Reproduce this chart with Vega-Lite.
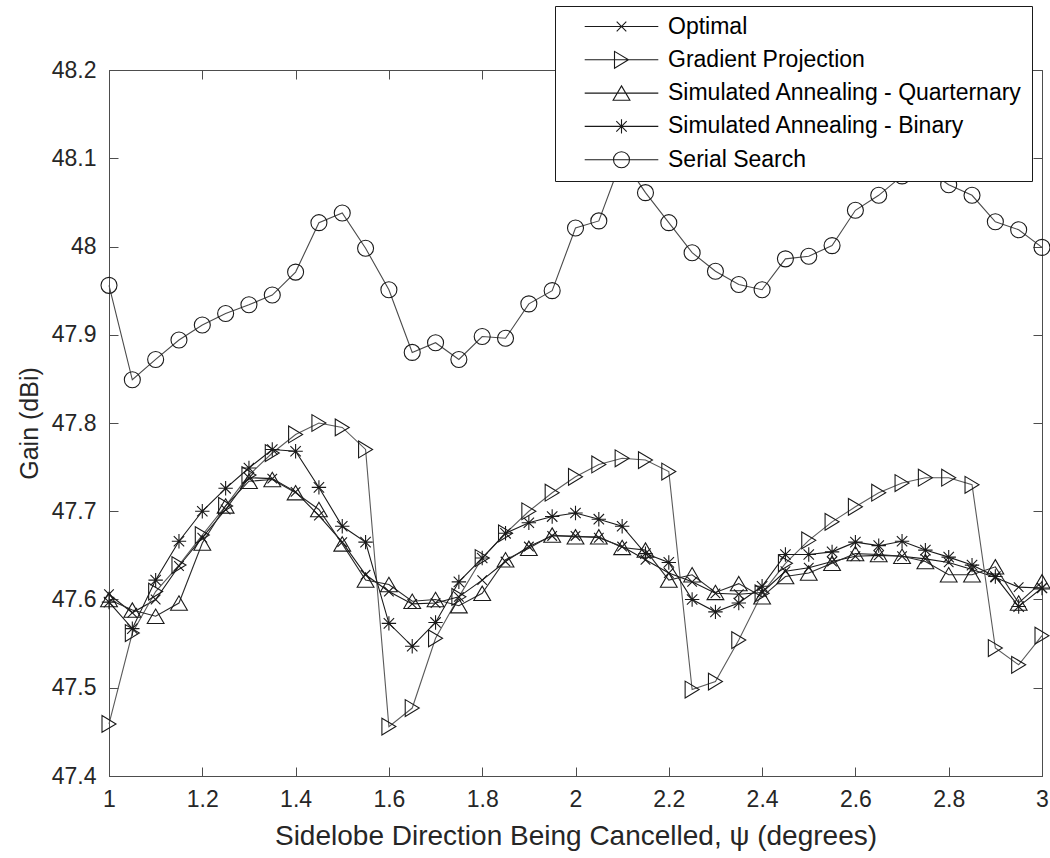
{
  "$schema": "https://vega.github.io/schema/vega-lite/v6.json",
  "autosize": {"type": "none"},
  "padding": {"left": 109, "top": 70, "right": 8, "bottom": 82},
  "width": 933,
  "height": 706,
  "background": "white",
  "config": {
    "font": "Liberation Sans",
    "view": {"stroke": "#4d4d4d", "strokeWidth": 1},
    "axis": {
      "grid": false,
      "domainColor": "#4d4d4d",
      "tickColor": "#4d4d4d",
      "tickSize": -9,
      "labelFont": "Liberation Sans",
      "labelFontSize": 23,
      "labelColor": "#262626",
      "titleFont": "Liberation Sans",
      "titleFontSize": 25,
      "titleFontWeight": "normal",
      "titleColor": "#262626"
    }
  },
  "resolve": {"axis": {"x": "independent", "y": "independent"}, "scale": {"shape": "independent"}},
  "data": {
    "values": [
      {"psi":1.00,"method":"Optimal","gain":47.606},
      {"psi":1.05,"method":"Optimal","gain":47.585},
      {"psi":1.10,"method":"Optimal","gain":47.600},
      {"psi":1.15,"method":"Optimal","gain":47.638},
      {"psi":1.20,"method":"Optimal","gain":47.670},
      {"psi":1.25,"method":"Optimal","gain":47.702},
      {"psi":1.30,"method":"Optimal","gain":47.738},
      {"psi":1.35,"method":"Optimal","gain":47.737},
      {"psi":1.40,"method":"Optimal","gain":47.722},
      {"psi":1.45,"method":"Optimal","gain":47.695},
      {"psi":1.50,"method":"Optimal","gain":47.665},
      {"psi":1.55,"method":"Optimal","gain":47.628},
      {"psi":1.60,"method":"Optimal","gain":47.609},
      {"psi":1.65,"method":"Optimal","gain":47.595},
      {"psi":1.70,"method":"Optimal","gain":47.596},
      {"psi":1.75,"method":"Optimal","gain":47.603},
      {"psi":1.80,"method":"Optimal","gain":47.622},
      {"psi":1.85,"method":"Optimal","gain":47.643},
      {"psi":1.90,"method":"Optimal","gain":47.660},
      {"psi":1.95,"method":"Optimal","gain":47.672},
      {"psi":2.00,"method":"Optimal","gain":47.672},
      {"psi":2.05,"method":"Optimal","gain":47.670},
      {"psi":2.10,"method":"Optimal","gain":47.660},
      {"psi":2.15,"method":"Optimal","gain":47.645},
      {"psi":2.20,"method":"Optimal","gain":47.630},
      {"psi":2.25,"method":"Optimal","gain":47.620},
      {"psi":2.30,"method":"Optimal","gain":47.607},
      {"psi":2.35,"method":"Optimal","gain":47.606},
      {"psi":2.40,"method":"Optimal","gain":47.608},
      {"psi":2.45,"method":"Optimal","gain":47.632},
      {"psi":2.50,"method":"Optimal","gain":47.636},
      {"psi":2.55,"method":"Optimal","gain":47.643},
      {"psi":2.60,"method":"Optimal","gain":47.649},
      {"psi":2.65,"method":"Optimal","gain":47.650},
      {"psi":2.70,"method":"Optimal","gain":47.649},
      {"psi":2.75,"method":"Optimal","gain":47.646},
      {"psi":2.80,"method":"Optimal","gain":47.642},
      {"psi":2.85,"method":"Optimal","gain":47.634},
      {"psi":2.90,"method":"Optimal","gain":47.625},
      {"psi":2.95,"method":"Optimal","gain":47.614},
      {"psi":3.00,"method":"Optimal","gain":47.613},
      {"psi":1.00,"method":"Gradient Projection","gain":47.459},
      {"psi":1.05,"method":"Gradient Projection","gain":47.562},
      {"psi":1.10,"method":"Gradient Projection","gain":47.609},
      {"psi":1.15,"method":"Gradient Projection","gain":47.639},
      {"psi":1.20,"method":"Gradient Projection","gain":47.673},
      {"psi":1.25,"method":"Gradient Projection","gain":47.706},
      {"psi":1.30,"method":"Gradient Projection","gain":47.741},
      {"psi":1.35,"method":"Gradient Projection","gain":47.766},
      {"psi":1.40,"method":"Gradient Projection","gain":47.787},
      {"psi":1.45,"method":"Gradient Projection","gain":47.800},
      {"psi":1.50,"method":"Gradient Projection","gain":47.795},
      {"psi":1.55,"method":"Gradient Projection","gain":47.770},
      {"psi":1.60,"method":"Gradient Projection","gain":47.456},
      {"psi":1.65,"method":"Gradient Projection","gain":47.477},
      {"psi":1.70,"method":"Gradient Projection","gain":47.556},
      {"psi":1.75,"method":"Gradient Projection","gain":47.603},
      {"psi":1.80,"method":"Gradient Projection","gain":47.647},
      {"psi":1.85,"method":"Gradient Projection","gain":47.675},
      {"psi":1.90,"method":"Gradient Projection","gain":47.700},
      {"psi":1.95,"method":"Gradient Projection","gain":47.721},
      {"psi":2.00,"method":"Gradient Projection","gain":47.739},
      {"psi":2.05,"method":"Gradient Projection","gain":47.753},
      {"psi":2.10,"method":"Gradient Projection","gain":47.760},
      {"psi":2.15,"method":"Gradient Projection","gain":47.758},
      {"psi":2.20,"method":"Gradient Projection","gain":47.745},
      {"psi":2.25,"method":"Gradient Projection","gain":47.498},
      {"psi":2.30,"method":"Gradient Projection","gain":47.507},
      {"psi":2.35,"method":"Gradient Projection","gain":47.554},
      {"psi":2.40,"method":"Gradient Projection","gain":47.607},
      {"psi":2.45,"method":"Gradient Projection","gain":47.641},
      {"psi":2.50,"method":"Gradient Projection","gain":47.667},
      {"psi":2.55,"method":"Gradient Projection","gain":47.688},
      {"psi":2.60,"method":"Gradient Projection","gain":47.705},
      {"psi":2.65,"method":"Gradient Projection","gain":47.721},
      {"psi":2.70,"method":"Gradient Projection","gain":47.732},
      {"psi":2.75,"method":"Gradient Projection","gain":47.738},
      {"psi":2.80,"method":"Gradient Projection","gain":47.738},
      {"psi":2.85,"method":"Gradient Projection","gain":47.730},
      {"psi":2.90,"method":"Gradient Projection","gain":47.545},
      {"psi":2.95,"method":"Gradient Projection","gain":47.526},
      {"psi":3.00,"method":"Gradient Projection","gain":47.559},
      {"psi":1.00,"method":"Simulated Annealing - Quarternary","gain":47.600},
      {"psi":1.05,"method":"Simulated Annealing - Quarternary","gain":47.588},
      {"psi":1.10,"method":"Simulated Annealing - Quarternary","gain":47.581},
      {"psi":1.15,"method":"Simulated Annealing - Quarternary","gain":47.596},
      {"psi":1.20,"method":"Simulated Annealing - Quarternary","gain":47.664},
      {"psi":1.25,"method":"Simulated Annealing - Quarternary","gain":47.706},
      {"psi":1.30,"method":"Simulated Annealing - Quarternary","gain":47.734},
      {"psi":1.35,"method":"Simulated Annealing - Quarternary","gain":47.736},
      {"psi":1.40,"method":"Simulated Annealing - Quarternary","gain":47.721},
      {"psi":1.45,"method":"Simulated Annealing - Quarternary","gain":47.702},
      {"psi":1.50,"method":"Simulated Annealing - Quarternary","gain":47.663},
      {"psi":1.55,"method":"Simulated Annealing - Quarternary","gain":47.622},
      {"psi":1.60,"method":"Simulated Annealing - Quarternary","gain":47.617},
      {"psi":1.65,"method":"Simulated Annealing - Quarternary","gain":47.598},
      {"psi":1.70,"method":"Simulated Annealing - Quarternary","gain":47.600},
      {"psi":1.75,"method":"Simulated Annealing - Quarternary","gain":47.593},
      {"psi":1.80,"method":"Simulated Annealing - Quarternary","gain":47.607},
      {"psi":1.85,"method":"Simulated Annealing - Quarternary","gain":47.645},
      {"psi":1.90,"method":"Simulated Annealing - Quarternary","gain":47.658},
      {"psi":1.95,"method":"Simulated Annealing - Quarternary","gain":47.673},
      {"psi":2.00,"method":"Simulated Annealing - Quarternary","gain":47.671},
      {"psi":2.05,"method":"Simulated Annealing - Quarternary","gain":47.671},
      {"psi":2.10,"method":"Simulated Annealing - Quarternary","gain":47.659},
      {"psi":2.15,"method":"Simulated Annealing - Quarternary","gain":47.656},
      {"psi":2.20,"method":"Simulated Annealing - Quarternary","gain":47.622},
      {"psi":2.25,"method":"Simulated Annealing - Quarternary","gain":47.628},
      {"psi":2.30,"method":"Simulated Annealing - Quarternary","gain":47.608},
      {"psi":2.35,"method":"Simulated Annealing - Quarternary","gain":47.618},
      {"psi":2.40,"method":"Simulated Annealing - Quarternary","gain":47.603},
      {"psi":2.45,"method":"Simulated Annealing - Quarternary","gain":47.626},
      {"psi":2.50,"method":"Simulated Annealing - Quarternary","gain":47.630},
      {"psi":2.55,"method":"Simulated Annealing - Quarternary","gain":47.641},
      {"psi":2.60,"method":"Simulated Annealing - Quarternary","gain":47.652},
      {"psi":2.65,"method":"Simulated Annealing - Quarternary","gain":47.651},
      {"psi":2.70,"method":"Simulated Annealing - Quarternary","gain":47.649},
      {"psi":2.75,"method":"Simulated Annealing - Quarternary","gain":47.643},
      {"psi":2.80,"method":"Simulated Annealing - Quarternary","gain":47.628},
      {"psi":2.85,"method":"Simulated Annealing - Quarternary","gain":47.628},
      {"psi":2.90,"method":"Simulated Annealing - Quarternary","gain":47.637},
      {"psi":2.95,"method":"Simulated Annealing - Quarternary","gain":47.596},
      {"psi":3.00,"method":"Simulated Annealing - Quarternary","gain":47.620},
      {"psi":1.00,"method":"Simulated Annealing - Binary","gain":47.597},
      {"psi":1.05,"method":"Simulated Annealing - Binary","gain":47.567},
      {"psi":1.10,"method":"Simulated Annealing - Binary","gain":47.622},
      {"psi":1.15,"method":"Simulated Annealing - Binary","gain":47.666},
      {"psi":1.20,"method":"Simulated Annealing - Binary","gain":47.700},
      {"psi":1.25,"method":"Simulated Annealing - Binary","gain":47.726},
      {"psi":1.30,"method":"Simulated Annealing - Binary","gain":47.749},
      {"psi":1.35,"method":"Simulated Annealing - Binary","gain":47.770},
      {"psi":1.40,"method":"Simulated Annealing - Binary","gain":47.768},
      {"psi":1.45,"method":"Simulated Annealing - Binary","gain":47.727},
      {"psi":1.50,"method":"Simulated Annealing - Binary","gain":47.683},
      {"psi":1.55,"method":"Simulated Annealing - Binary","gain":47.665},
      {"psi":1.60,"method":"Simulated Annealing - Binary","gain":47.573},
      {"psi":1.65,"method":"Simulated Annealing - Binary","gain":47.547},
      {"psi":1.70,"method":"Simulated Annealing - Binary","gain":47.574},
      {"psi":1.75,"method":"Simulated Annealing - Binary","gain":47.620},
      {"psi":1.80,"method":"Simulated Annealing - Binary","gain":47.647},
      {"psi":1.85,"method":"Simulated Annealing - Binary","gain":47.675},
      {"psi":1.90,"method":"Simulated Annealing - Binary","gain":47.687},
      {"psi":1.95,"method":"Simulated Annealing - Binary","gain":47.694},
      {"psi":2.00,"method":"Simulated Annealing - Binary","gain":47.698},
      {"psi":2.05,"method":"Simulated Annealing - Binary","gain":47.691},
      {"psi":2.10,"method":"Simulated Annealing - Binary","gain":47.683},
      {"psi":2.15,"method":"Simulated Annealing - Binary","gain":47.652},
      {"psi":2.20,"method":"Simulated Annealing - Binary","gain":47.642},
      {"psi":2.25,"method":"Simulated Annealing - Binary","gain":47.600},
      {"psi":2.30,"method":"Simulated Annealing - Binary","gain":47.586},
      {"psi":2.35,"method":"Simulated Annealing - Binary","gain":47.596},
      {"psi":2.40,"method":"Simulated Annealing - Binary","gain":47.615},
      {"psi":2.45,"method":"Simulated Annealing - Binary","gain":47.651},
      {"psi":2.50,"method":"Simulated Annealing - Binary","gain":47.651},
      {"psi":2.55,"method":"Simulated Annealing - Binary","gain":47.654},
      {"psi":2.60,"method":"Simulated Annealing - Binary","gain":47.665},
      {"psi":2.65,"method":"Simulated Annealing - Binary","gain":47.661},
      {"psi":2.70,"method":"Simulated Annealing - Binary","gain":47.666},
      {"psi":2.75,"method":"Simulated Annealing - Binary","gain":47.656},
      {"psi":2.80,"method":"Simulated Annealing - Binary","gain":47.648},
      {"psi":2.85,"method":"Simulated Annealing - Binary","gain":47.639},
      {"psi":2.90,"method":"Simulated Annealing - Binary","gain":47.626},
      {"psi":2.95,"method":"Simulated Annealing - Binary","gain":47.592},
      {"psi":3.00,"method":"Simulated Annealing - Binary","gain":47.613},
      {"psi":1.00,"method":"Serial Search","gain":47.956},
      {"psi":1.05,"method":"Serial Search","gain":47.849},
      {"psi":1.10,"method":"Serial Search","gain":47.872},
      {"psi":1.15,"method":"Serial Search","gain":47.894},
      {"psi":1.20,"method":"Serial Search","gain":47.911},
      {"psi":1.25,"method":"Serial Search","gain":47.924},
      {"psi":1.30,"method":"Serial Search","gain":47.934},
      {"psi":1.35,"method":"Serial Search","gain":47.945},
      {"psi":1.40,"method":"Serial Search","gain":47.971},
      {"psi":1.45,"method":"Serial Search","gain":48.027},
      {"psi":1.50,"method":"Serial Search","gain":48.038},
      {"psi":1.55,"method":"Serial Search","gain":47.998},
      {"psi":1.60,"method":"Serial Search","gain":47.951},
      {"psi":1.65,"method":"Serial Search","gain":47.880},
      {"psi":1.70,"method":"Serial Search","gain":47.891},
      {"psi":1.75,"method":"Serial Search","gain":47.872},
      {"psi":1.80,"method":"Serial Search","gain":47.898},
      {"psi":1.85,"method":"Serial Search","gain":47.896},
      {"psi":1.90,"method":"Serial Search","gain":47.935},
      {"psi":1.95,"method":"Serial Search","gain":47.950},
      {"psi":2.00,"method":"Serial Search","gain":48.021},
      {"psi":2.05,"method":"Serial Search","gain":48.029},
      {"psi":2.10,"method":"Serial Search","gain":48.100},
      {"psi":2.15,"method":"Serial Search","gain":48.061},
      {"psi":2.20,"method":"Serial Search","gain":48.027},
      {"psi":2.25,"method":"Serial Search","gain":47.993},
      {"psi":2.30,"method":"Serial Search","gain":47.972},
      {"psi":2.35,"method":"Serial Search","gain":47.957},
      {"psi":2.40,"method":"Serial Search","gain":47.951},
      {"psi":2.45,"method":"Serial Search","gain":47.986},
      {"psi":2.50,"method":"Serial Search","gain":47.989},
      {"psi":2.55,"method":"Serial Search","gain":48.001},
      {"psi":2.60,"method":"Serial Search","gain":48.041},
      {"psi":2.65,"method":"Serial Search","gain":48.058},
      {"psi":2.70,"method":"Serial Search","gain":48.080},
      {"psi":2.75,"method":"Serial Search","gain":48.088},
      {"psi":2.80,"method":"Serial Search","gain":48.070},
      {"psi":2.85,"method":"Serial Search","gain":48.058},
      {"psi":2.90,"method":"Serial Search","gain":48.028},
      {"psi":2.95,"method":"Serial Search","gain":48.019},
      {"psi":3.00,"method":"Serial Search","gain":47.999}
    ]
  },
  "layer": [
    {
      "mark": {"type": "line", "strokeWidth": 1.1},
      "encoding": {
        "x": {
          "field": "psi", "type": "quantitative",
          "scale": {"domain": [1, 3], "nice": false, "zero": false},
          "axis": {
            "orient": "bottom",
            "title": "Sidelobe Direction Being Cancelled, ψ (degrees)",
            "titleFontSize": 28,
            "values": [1, 1.2, 1.4, 1.6, 1.8, 2, 2.2, 2.4, 2.6, 2.8, 3],
            "format": ".1~f",
            "labelPadding": 21,
            "titlePadding": 11,
            "labelFlush": false
          }
        },
        "y": {
          "field": "gain", "type": "quantitative",
          "scale": {"domain": [47.4, 48.2], "nice": false, "zero": false},
          "axis": {
            "orient": "left",
            "title": "Gain (dBi)",
            "values": [47.4, 47.5, 47.6, 47.7, 47.8, 47.9, 48, 48.1, 48.2],
            "format": ".1~f",
            "labelPadding": 22,
            "titlePadding": 9,
            "labelFlush": false
          }
        },
        "color": {
          "field": "method", "type": "nominal",
          "scale": {"range": ["#5a5a5a", "#1a1a1a", "#4a4a4a", "#1a1a1a", "#2a2a2a"]},
          "legend": null
        }
      }
    },
    {
      "mark": {"type": "point", "filled": false, "size": 256, "strokeWidth": 1.1, "opacity": 1, "color": "#1a1a1a"},
      "encoding": {
        "x": {"field": "psi", "type": "quantitative",
          "axis": {"orient": "top", "labels": false, "title": null, "domain": false,
                   "values": [1, 1.2, 1.4, 1.6, 1.8, 2, 2.2, 2.4, 2.6, 2.8, 3]}},
        "y": {"field": "gain", "type": "quantitative",
          "axis": {"orient": "right", "labels": false, "title": null, "domain": false,
                   "values": [47.4, 47.5, 47.6, 47.7, 47.8, 47.9, 48, 48.1, 48.2]}},
        "shape": {
          "field": "method", "type": "nominal",
          "scale": {
            "range": [
              "M-0.875,-1.05L0.875,0L-0.875,1.05Z",
              "M-0.6,-0.6L0.6,0.6M-0.6,0.6L0.6,-0.6",
              "circle",
              "M-0.9,0L0.9,0M0,-0.9L0,0.9M-0.65,-0.65L0.65,0.65M-0.65,0.65L0.65,-0.65",
              "M0,-0.9L1.05,0.9L-1.05,0.9Z"
            ]
          },
          "legend": null
        }
      }
    },
    {
      "mark": {"type": "point", "filled": false, "size": 256, "strokeWidth": 1.1, "opacity": 0, "color": "#1a1a1a"},
      "encoding": {
        "x": {"field": "psi", "type": "quantitative", "axis": null},
        "y": {"field": "gain", "type": "quantitative", "axis": null},
        "shape": {
          "field": "method", "type": "nominal",
          "scale": {
            "domain": ["Optimal", "Gradient Projection", "Simulated Annealing - Quarternary", "Simulated Annealing - Binary", "Serial Search"],
            "range": [
              "M-4.6,0L4.6,0M-0.6,-0.6L0.6,0.6M-0.6,0.6L0.6,-0.6",
              "M-4.6,0L4.6,0M-0.875,-1.05L0.875,0L-0.875,1.05Z",
              "M-4.6,0L4.6,0M0,-0.9L1.05,0.9L-1.05,0.9Z",
              "M-4.6,0L4.6,0M-0.9,0L0.9,0M0,-0.9L0,0.9M-0.65,-0.65L0.65,0.65M-0.65,0.65L0.65,-0.65",
              "M-4.6,0L4.6,0M1,0A1,1,0,1,1,-1,0A1,1,0,1,1,1,0Z"
            ]
          },
          "legend": {
            "title": null,
            "orient": "none",
            "legendX": 446,
            "legendY": -64,
            "padding": 9,
            "fillColor": "white",
            "strokeColor": "#1a1a1a",
            "symbolSize": 256,
            "symbolOffset": 46,
            "labelOffset": 35,
            "rowPadding": 9.3,
            "symbolOpacity": 1,
            "symbolStrokeColor": "#1a1a1a",
            "symbolFillColor": "transparent",
            "symbolStrokeWidth": 1.1,
            "labelFont": "Liberation Sans",
            "labelFontSize": 23,
            "labelColor": "#000000",
            "labelLimit": 700
          }
        }
      }
    }
  ]
}
